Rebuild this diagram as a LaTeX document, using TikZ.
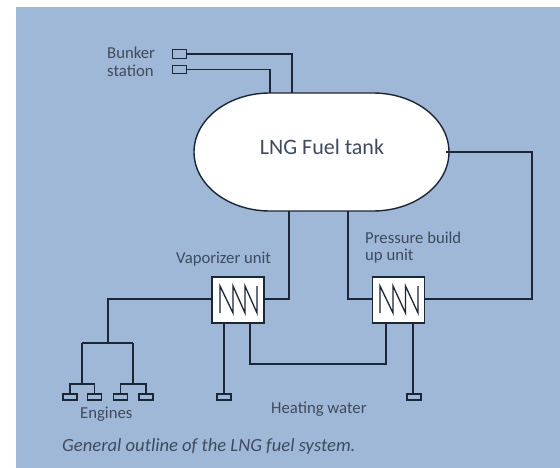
\documentclass[tikz,border=0pt]{standalone}
\usepackage{fontspec}
\setmainfont{Carlito}
\definecolor{bgblue}{HTML}{9FB8D7}
\definecolor{pipe}{HTML}{1B2636}
\definecolor{txt}{HTML}{3F4A5C}
\tikzset{
  x=1pt,y=-1pt,
  pipeline/.style={draw=pipe,line width=1.8pt,line join=miter},
  thin pipeline/.style={draw=pipe,line width=1.1pt},
  port/.style={draw=pipe,line width=1.1pt,fill=bgblue,rectangle,inner sep=0pt,minimum width=14pt,minimum height=6pt},
  bunkerport/.style={port,minimum height=8.5pt,line width=1.4pt},
  exch/.style={draw=pipe,line width=1.7pt,fill=white,rectangle,inner sep=0pt,minimum width=52pt,minimum height=46pt},
  coil/.style={draw=pipe,line width=1.3pt,line join=miter},
  lbl/.style={text=txt,font=\fontsize{16.7}{18}\selectfont,inner sep=0pt,align=left},
}
\begin{document}
\begin{tikzpicture}
\useasboundingbox (0,0) rectangle (560,468);
\fill[white] (0,0) rectangle (560,468);
\fill[bgblue] (16,7) rectangle (560,468);
% tank
\draw[draw=pipe,line width=1.4pt,fill=white] (270,93) -- (373,93)
  arc[start angle=90,end angle=-90,x radius=76,y radius=-59] -- (270,211)
  arc[start angle=270,end angle=90,x radius=76,y radius=-59] -- cycle;
\coordinate (tankA) at (270,93);
\coordinate (tankB) at (292,93);
\coordinate (tankC) at (289,211);
\coordinate (tankD) at (348,211);
\coordinate (tankE) at (446,152);
\node[text=txt,font=\fontsize{22}{24}\selectfont,inner sep=0pt] (tanklabel) at (322,146.5) {LNG Fuel tank};
% bunker
\node[bunkerport] (b1) at (179.5,54) {};
\node[bunkerport] (b2) at (179.5,69.5) {};
\draw[pipeline] (b1.east) -- (292,54) -- (tankB);
\draw[pipeline] (b2.east) -- (270,69.5) -- (tankA);
\node[lbl,anchor=west] (bl1) at (107,53) {Bunker};
\node[lbl,anchor=west] (bl2) at (107,71) {station};
% exchangers
\node[exch] (vap) at (238,300) {};
\node[exch] (pbu) at (398.5,300) {};
\draw[coil] (220,313) -- (220,286) -- (233,313) -- (233,286) -- (245,313) -- (245,286) -- (257,313) -- (257,286);
\draw[coil] (380,313) -- (380,286) -- (393,313) -- (393,286) -- (405.5,313) -- (405.5,286) -- (418,313) -- (418,286);
\node[lbl,anchor=west] (vl) at (176,259) {Vaporizer unit};
\node[lbl,anchor=west] (pl1) at (365,238) {Pressure build};
\node[lbl,anchor=west] (pl2) at (365,256) {up unit};
% pipes
\draw[pipeline] (tankC) -- (289,299) -- (vap.east |- 0,299);
\draw[pipeline] (tankD) -- (348,299) -- (pbu.west |- 0,299);
\draw[pipeline] (tankE) -- (532,152) -- (532,299) -- (pbu.east |- 0,299);
\draw[pipeline] (vap.south -| 250,0) -- (250,364) -- (386,364) -- (pbu.south -| 386,0);
% stubs
\node[port] (h1) at (224,397) {};
\node[port] (h2) at (414,397) {};
\draw[pipeline] (vap.south -| 224,0) -- (h1.north);
\draw[pipeline] (pbu.south -| 413,0) -- (413,394);
% engines
\node[port] (e1) at (70,397) {};
\node[port] (e2) at (94.5,397) {};
\node[port] (e3) at (120.5,397) {};
\node[port] (e4) at (146,397) {};
\coordinate (j1) at (108,299);
\coordinate (j2) at (108,343);
\coordinate (j3) at (82,343);
\coordinate (j4) at (133,343);
\coordinate (j5) at (82,384);
\coordinate (j6) at (133,384);
\draw[pipeline] (vap.west |- j1) -- (j1) -- (j2);
\draw[pipeline] (j3) -- (j4);
\draw[pipeline] (j3) -- (j5);
\draw[pipeline] (j4) -- (j6);
\draw[thin pipeline] (e1.north) -- (70,384) -- (94.5,384) -- (e2.north);
\draw[thin pipeline] (e3.north) -- (120.5,384) -- (146,384) -- (e4.north);
\node[lbl,anchor=west] (el) at (80,414) {Engines};
\node[lbl,anchor=west] (hl) at (271,409) {Heating water};
\node[lbl,anchor=west,font=\fontsize{18.6}{20}\selectfont\itshape] (cap) at (62,447) {General outline of the LNG fuel system.};
\end{tikzpicture}
\end{document}
